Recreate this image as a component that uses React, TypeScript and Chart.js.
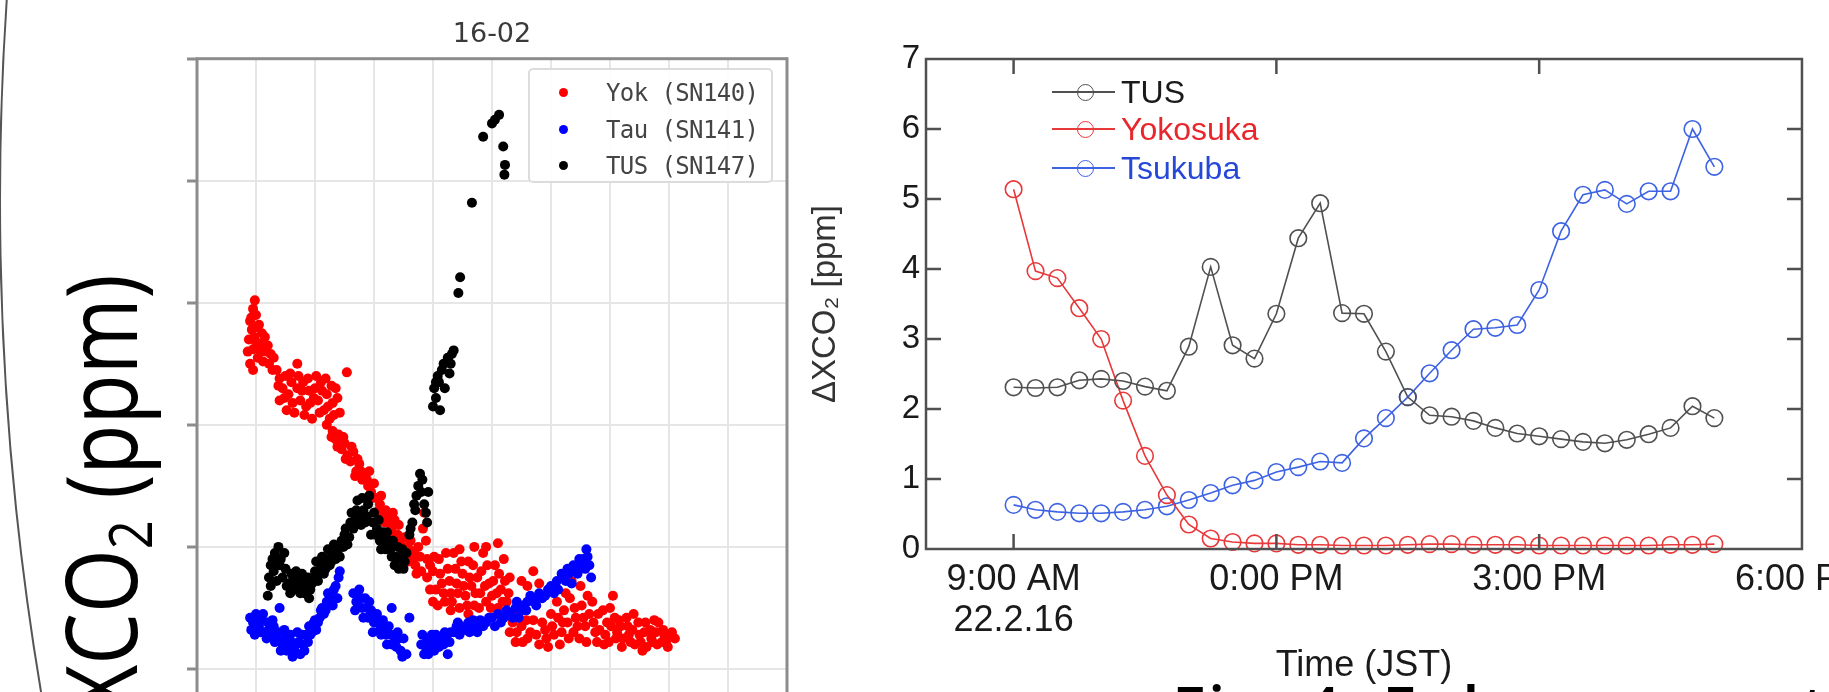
import React, { useEffect, useRef } from 'react';
import { Chart, registerables } from 'chart.js';

Chart.register(...registerables);

// ---------- Left chart (16-02): scatter, [time index, XCO2 level] ----------
const yokPoints: [number, number][] = [
  [0.98, 4.02], [0.95, 3.95], [1.0, 3.9], [0.9, 3.85], [1.05, 3.82], [0.93, 3.78], [1.1, 3.75], [0.88, 3.7],
  [1.0, 3.68], [1.15, 3.72], [0.95, 3.62], [1.2, 3.65], [1.08, 3.6], [0.9, 3.5], [1.25, 3.58], [1.12, 3.52], [1.3, 3.55],
  [0.92, 3.88], [1.02, 3.8], [0.97, 3.72], [1.07, 3.66], [0.86, 3.6], [1.18, 3.6], [1.03, 3.55], [0.95, 3.45], [1.22, 3.5], [1.28, 3.45],
  [1.7, 3.5], [2.54, 3.43], [1.35, 3.45], [1.4, 3.38], [1.5, 3.4], [1.45, 3.3], [1.6, 3.35], [1.55, 3.25], [1.7, 3.3],
  [1.75, 3.2], [1.8, 3.35], [1.9, 3.28], [1.85, 3.15], [2.0, 3.3], [2.05, 3.2], [2.1, 3.35], [2.15, 3.12], [2.2, 3.25],
  [2.3, 3.18], [2.25, 3.05], [2.35, 3.3], [1.65, 3.1], [1.4, 3.2], [1.95, 3.05],
  [1.38, 3.32], [1.48, 3.22], [1.58, 3.42], [1.62, 3.18], [1.72, 3.4], [1.78, 3.28], [1.88, 3.38], [1.92, 3.18], [1.98, 3.22],
  [2.08, 3.1], [2.12, 3.28], [2.18, 3.38], [2.22, 3.15], [2.28, 3.32], [2.32, 3.08], [2.38, 3.22], [2.42, 3.1], [1.52, 3.12],
  [1.82, 3.08], [2.02, 3.4],
  [2.2, 3.0], [2.3, 2.95], [2.35, 2.88], [2.4, 2.92], [2.45, 2.8], [2.5, 2.85], [2.55, 2.75], [2.6, 2.7], [2.65, 2.78],
  [2.7, 2.62], [2.75, 2.68], [2.8, 2.55], [2.85, 2.6], [2.9, 2.5], [2.95, 2.45], [3.0, 2.52],
  [2.28, 2.9], [2.38, 2.82], [2.48, 2.9], [2.52, 2.72], [2.62, 2.82], [2.68, 2.58], [2.72, 2.72], [2.78, 2.62], [2.88, 2.55],
  [2.92, 2.62], [2.98, 2.4],
  [3.05, 2.4], [3.1, 2.35], [3.15, 2.28], [3.2, 2.3], [3.25, 2.2], [3.3, 2.15], [3.35, 2.22], [3.4, 2.1], [3.45, 2.05],
  [3.5, 2.0], [3.55, 1.95], [3.6, 1.98], [3.65, 1.9], [3.7, 1.85], [3.75, 2.0], [3.8, 1.8], [3.85, 2.28], [3.83, 2.15],
  [3.9, 1.9], [3.95, 1.85],
  [3.08, 2.3], [3.12, 2.42], [3.18, 2.2], [3.22, 2.25], [3.28, 2.1], [3.32, 2.28], [3.38, 2.02], [3.42, 2.18], [3.48, 1.92],
  [3.52, 2.08], [3.58, 1.88], [3.62, 2.05], [3.68, 1.95], [3.72, 1.78], [3.78, 1.92], [3.88, 2.05],
  [3.9, 1.75], [4.0, 1.8], [4.05, 1.65], [4.1, 1.9], [4.15, 1.7], [4.2, 1.55], [4.25, 1.82], [4.3, 1.62], [4.35, 1.95],
  [4.4, 1.7], [4.45, 1.5], [4.5, 1.78], [4.55, 1.6], [4.6, 1.88], [4.65, 1.68], [4.7, 1.52], [4.75, 1.75], [4.8, 1.62],
  [4.85, 1.95], [4.9, 1.55], [4.95, 1.7], [5.0, 1.6], [5.05, 1.85], [5.1, 1.5], [5.15, 1.65], [5.2, 1.9], [5.25, 1.55],
  [5.1, 2.03], [4.7, 2.0], [4.3, 1.48], [4.0, 1.55], [4.6, 1.45], [5.3, 1.75], [5.5, 1.72], [5.6, 1.68], [5.7, 1.8], [5.8, 1.7],
  [3.95, 1.65], [4.02, 1.92], [4.08, 1.52], [4.12, 1.78], [4.18, 1.62], [4.22, 1.95], [4.28, 1.72], [4.32, 1.55], [4.38, 1.82],
  [4.42, 1.62], [4.48, 1.88], [4.52, 1.68], [4.58, 1.52], [4.62, 1.75], [4.68, 1.85], [4.72, 1.62], [4.78, 1.5], [4.82, 1.8],
  [4.88, 1.68], [4.92, 1.85], [4.98, 1.5], [5.02, 1.72], [5.08, 1.62], [5.12, 1.78], [5.18, 1.55], [5.22, 1.72], [5.28, 1.62],
  [4.45, 1.98], [4.9, 2.0],
  [5.3, 1.3], [5.4, 1.22], [5.5, 1.35], [5.6, 1.25], [5.7, 1.4], [5.8, 1.2], [5.9, 1.32], [6.0, 1.45], [6.05, 1.28],
  [6.1, 1.55], [6.2, 1.38], [6.25, 1.62], [6.3, 1.25], [6.4, 1.5], [6.45, 1.35], [6.5, 1.68], [6.55, 1.42], [6.6, 1.22],
  [6.7, 1.55], [6.75, 1.3], [6.8, 1.45], [6.9, 1.2], [6.95, 1.38], [7.0, 1.5], [7.1, 1.25], [7.15, 1.4], [7.2, 1.18],
  [7.3, 1.35], [7.35, 1.22], [7.4, 1.45], [7.5, 1.28], [7.55, 1.15], [7.6, 1.38], [7.7, 1.25], [7.75, 1.4], [7.8, 1.2],
  [7.9, 1.32], [7.95, 1.22], [8.0, 1.28], [8.1, 1.25], [6.15, 1.2], [5.45, 1.45], [7.05, 1.6], [6.35, 1.72], [5.95, 1.18],
  [5.35, 1.38], [5.42, 1.3], [5.52, 1.22], [5.58, 1.4], [5.65, 1.3], [5.75, 1.28], [5.85, 1.38], [5.92, 1.25], [6.02, 1.35],
  [6.12, 1.42], [6.18, 1.3], [6.22, 1.48], [6.28, 1.38], [6.32, 1.58], [6.38, 1.3], [6.42, 1.42], [6.48, 1.25], [6.52, 1.52],
  [6.58, 1.35], [6.62, 1.6], [6.65, 1.45], [6.72, 1.38], [6.78, 1.22], [6.82, 1.32], [6.88, 1.48], [6.92, 1.28], [6.98, 1.22],
  [7.02, 1.35], [7.08, 1.42], [7.12, 1.3], [7.18, 1.35], [7.22, 1.25], [7.28, 1.42], [7.32, 1.28], [7.38, 1.32], [7.42, 1.2],
  [7.48, 1.38], [7.52, 1.22], [7.58, 1.3], [7.62, 1.18], [7.68, 1.32], [7.72, 1.22], [7.78, 1.3], [7.82, 1.38], [7.88, 1.22],
  [7.92, 1.28], [7.98, 1.18], [8.05, 1.3],
];

const tauPoints: [number, number][] = [
  [0.9, 1.42], [0.95, 1.38], [1.0, 1.45], [1.05, 1.35], [1.1, 1.4], [1.15, 1.3], [1.2, 1.38], [1.25, 1.28], [1.3, 1.35],
  [1.35, 1.25], [1.4, 1.5], [1.45, 1.2],
  [0.92, 1.32], [0.98, 1.28], [1.02, 1.38], [1.08, 1.3], [1.12, 1.45], [1.18, 1.25], [1.22, 1.32], [1.28, 1.4], [1.32, 1.22],
  [1.38, 1.3], [1.42, 1.15], [1.48, 1.32],
  [1.5, 1.25], [1.55, 1.18], [1.6, 1.22], [1.65, 1.15], [1.7, 1.3], [1.75, 1.12], [1.8, 1.2], [1.85, 1.28], [1.9, 1.35], [1.95, 1.3],
  [1.52, 1.15], [1.58, 1.28], [1.62, 1.1], [1.68, 1.2], [1.72, 1.22], [1.78, 1.28], [1.82, 1.15], [1.88, 1.22], [1.92, 1.28], [1.98, 1.38],
  [2.0, 1.4], [2.05, 1.38], [2.1, 1.48], [2.15, 1.45], [2.2, 1.55], [2.25, 1.6], [2.3, 1.52], [2.35, 1.68], [2.4, 1.75], [2.42, 1.8],
  [2.02, 1.32], [2.08, 1.42], [2.12, 1.5], [2.18, 1.48], [2.22, 1.62], [2.28, 1.55], [2.32, 1.65], [2.38, 1.58],
  [2.65, 1.62], [2.7, 1.55], [2.75, 1.65], [2.8, 1.5], [2.85, 1.58], [2.9, 1.42], [2.95, 1.48], [3.0, 1.38], [3.05, 1.45],
  [3.1, 1.32], [3.15, 1.4], [3.2, 1.28], [3.25, 1.35], [3.3, 1.5], [3.35, 1.22], [3.4, 1.3], [3.45, 1.15], [3.5, 1.25],
  [3.55, 1.12], [3.3, 1.2], [3.6, 1.42],
  [2.68, 1.48], [2.72, 1.6], [2.78, 1.58], [2.82, 1.42], [2.88, 1.5], [2.92, 1.55], [2.98, 1.3], [3.02, 1.42], [3.08, 1.38],
  [3.12, 1.28], [3.18, 1.35], [3.22, 1.2], [3.28, 1.28], [3.38, 1.18], [3.42, 1.25], [3.48, 1.1],
  [3.8, 1.2], [3.85, 1.12], [3.9, 1.25], [3.95, 1.15], [4.0, 1.22], [4.05, 1.28], [4.1, 1.18], [4.15, 1.25], [4.2, 1.3], [4.25, 1.12],
  [3.82, 1.28], [3.88, 1.18], [3.92, 1.12], [3.98, 1.28], [4.02, 1.15], [4.08, 1.22], [4.18, 1.2], [4.22, 1.25], [4.28, 1.22],
  [4.3, 1.3], [4.4, 1.35], [4.5, 1.32], [4.6, 1.38], [4.7, 1.35], [4.8, 1.4], [4.9, 1.38], [5.0, 1.42], [5.1, 1.45], [5.2, 1.42],
  [4.45, 1.28], [4.75, 1.3], [5.05, 1.35],
  [4.35, 1.3], [4.42, 1.38], [4.48, 1.35], [4.55, 1.32], [4.62, 1.3], [4.68, 1.4], [4.72, 1.38], [4.85, 1.35], [4.95, 1.42], [5.15, 1.38],
  [5.3, 1.45], [5.4, 1.5], [5.5, 1.48], [5.6, 1.55], [5.7, 1.58], [5.8, 1.62], [5.9, 1.6], [6.0, 1.68], [6.1, 1.72], [6.2, 1.75],
  [6.3, 1.78], [6.4, 1.8], [6.5, 1.85], [6.55, 1.9], [6.6, 1.98], [6.65, 1.85], [6.68, 1.75], [5.45, 1.42], [5.75, 1.52],
  [6.05, 1.62], [6.35, 1.7],
  [5.25, 1.48], [5.35, 1.42], [5.42, 1.55], [5.52, 1.52], [5.58, 1.48], [5.65, 1.6], [5.72, 1.55], [5.85, 1.58], [5.95, 1.65],
  [6.12, 1.65], [6.18, 1.78], [6.25, 1.72], [6.28, 1.82], [6.38, 1.85], [6.45, 1.78], [6.48, 1.9], [6.58, 1.82], [6.62, 1.92],
];

const tusPoints: [number, number][] = [
  [1.2, 1.6], [1.22, 1.75], [1.25, 1.85], [1.3, 1.8], [1.32, 1.95], [1.38, 2.0], [1.42, 1.9], [1.45, 1.75], [1.5, 1.82], [1.25, 1.68],
  [1.28, 1.9], [1.35, 1.72], [1.4, 1.85], [1.48, 1.95], [1.52, 1.68],
  [1.55, 1.7], [1.6, 1.78], [1.65, 1.65], [1.7, 1.75], [1.75, 1.62], [1.8, 1.72], [1.85, 1.68], [1.9, 1.58], [1.95, 1.7],
  [2.0, 1.8], [2.05, 1.72], [2.1, 1.85], [2.15, 1.78], [2.2, 1.9], [2.25, 1.85], [2.3, 1.95], [2.35, 1.9], [2.4, 2.0],
  [1.58, 1.62], [1.62, 1.72], [1.68, 1.8], [1.72, 1.68], [1.78, 1.78], [1.82, 1.62], [1.88, 1.75], [1.92, 1.65], [1.98, 1.75],
  [2.02, 1.88], [2.08, 1.78], [2.12, 1.92], [2.18, 1.82], [2.22, 1.98], [2.28, 1.88], [2.32, 2.02], [2.38, 1.95],
  [2.45, 2.05], [2.5, 2.1], [2.55, 2.02], [2.6, 2.2], [2.65, 2.15], [2.7, 2.3], [2.75, 2.25], [2.8, 2.4], [2.85, 2.2],
  [2.9, 2.35], [2.95, 2.1], [3.0, 2.28], [3.05, 2.15], [3.1, 2.05], [3.15, 2.12], [3.2, 1.98], [3.25, 2.05], [3.3, 1.92],
  [3.35, 1.85], [3.4, 2.0], [3.45, 1.9], [3.5, 1.82], [3.55, 1.95],
  [2.42, 1.92], [2.48, 2.0], [2.52, 2.15], [2.58, 2.08], [2.62, 2.28], [2.68, 2.22], [2.72, 2.38], [2.78, 2.18], [2.82, 2.3],
  [2.88, 2.25], [2.92, 2.42], [2.98, 2.2], [3.02, 2.1], [3.08, 2.22], [3.12, 1.98], [3.18, 2.05], [3.22, 2.12], [3.28, 1.98],
  [3.32, 2.05], [3.38, 1.92], [3.42, 1.82], [3.48, 1.98], [3.52, 1.88],
  [3.6, 2.1], [3.65, 2.2], [3.7, 2.3], [3.72, 2.42], [3.75, 2.5], [3.78, 2.6], [3.82, 2.55], [3.85, 2.35], [3.9, 2.2], [3.92, 2.45],
  [3.62, 2.15], [3.68, 2.35], [3.8, 2.45], [3.88, 2.28],
  [4.0, 3.15], [4.02, 3.3], [4.05, 3.22], [4.08, 3.4], [4.1, 3.35], [4.15, 3.45], [4.2, 3.3], [4.25, 3.55], [4.3, 3.5],
  [4.35, 3.61], [4.12, 3.12], [4.05, 3.35], [4.18, 3.5], [4.28, 3.42], [4.32, 3.58],
  [4.43, 4.08], [4.46, 4.21], [4.66, 4.82], [4.85, 5.36], [5.0, 5.47], [5.05, 5.5], [5.12, 5.54], [5.19, 5.28], [5.22, 5.13], [5.21, 5.05],
];

const leftLabels = ['Yok (SN140)', 'Tau (SN141)', 'TUS (SN147)'];
const leftColors = ['#ff0000', '#0000ff', '#000000'];
const leftTitle = '16-02';

// ---------- Right chart: ΔXCO2 every 15 min (hours, JST) ----------
const timeHours = [9, 9.25, 9.5, 9.75, 10, 10.25, 10.5, 10.75, 11, 11.25, 11.5, 11.75, 12, 12.25, 12.5, 12.75,
  13, 13.25, 13.5, 13.75, 14, 14.25, 14.5, 14.75, 15, 15.25, 15.5, 15.75, 16, 16.25, 16.5, 16.75, 17];
const tusValues = [2.31, 2.30, 2.31, 2.41, 2.43, 2.40, 2.32, 2.26, 2.89, 4.03, 2.91, 2.72, 3.36, 4.44, 4.94, 3.37,
  3.36, 2.82, 2.17, 1.91, 1.89, 1.83, 1.73, 1.65, 1.61, 1.57, 1.53, 1.51, 1.56, 1.64, 1.73, 2.04, 1.87];
const yokosukaValues = [5.14, 3.97, 3.87, 3.44, 3.00, 2.12, 1.33, 0.77, 0.35, 0.15, 0.10, 0.08, 0.08, 0.06, 0.06, 0.05,
  0.05, 0.05, 0.06, 0.07, 0.07, 0.06, 0.06, 0.06, 0.05, 0.05, 0.05, 0.05, 0.05, 0.05, 0.06, 0.06, 0.07];
const tsukubaValues = [0.63, 0.56, 0.53, 0.51, 0.51, 0.53, 0.56, 0.61, 0.70, 0.80, 0.91, 0.98, 1.10, 1.17, 1.25, 1.23,
  1.58, 1.87, 2.17, 2.51, 2.84, 3.14, 3.16, 3.20, 3.70, 4.54, 5.06, 5.13, 4.93, 5.11, 5.11, 6.00, 5.46];

const rightLabels = ['TUS', 'Yokosuka', 'Tsukuba'];
const rightLineColors = ['#505050', '#e8383a', '#3d62e4'];
const rightTextColors = ['#1a1a1a', '#e8262c', '#2648d8'];
const xTickValues = [9, 12, 15, 18];
const xTickLabels: (string | string[])[] = [['9:00 AM', '22.2.16'], '0:00 PM', '3:00 PM', '6:00 PM'];
const xInnerTicks = [9, 12, 15];
const yInnerTicks = [1, 2, 3, 4, 5, 6];

const framePlugin = (id: string, color: string, width: number) => ({
  id,
  afterDatasetsDraw(chart: any) {
    const { ctx, chartArea } = chart;
    ctx.save();
    ctx.strokeStyle = color;
    ctx.lineWidth = width;
    ctx.strokeRect(chartArea.left, chartArea.top, chartArea.right - chartArea.left, chartArea.bottom - chartArea.top);
    ctx.restore();
  },
});

const innerTicksPlugin = {
  id: 'innerTicks',
  afterDatasetsDraw(chart: any) {
    const { ctx, chartArea, scales } = chart;
    const { left, right, top, bottom } = chartArea;
    ctx.save();
    ctx.strokeStyle = '#505050';
    ctx.lineWidth = 2.5;
    ctx.beginPath();
    for (const v of yInnerTicks) {
      const py = scales.y.getPixelForValue(v);
      ctx.moveTo(left, py); ctx.lineTo(left + 15, py);
      ctx.moveTo(right, py); ctx.lineTo(right - 15, py);
    }
    for (const v of xInnerTicks) {
      const px = scales.x.getPixelForValue(v);
      ctx.moveTo(px, bottom); ctx.lineTo(px, bottom - 15);
      ctx.moveTo(px, top); ctx.lineTo(px, top + 15);
    }
    ctx.stroke();
    ctx.restore();
  },
};

export default function App() {
  const leftRef = useRef<HTMLCanvasElement>(null);
  const rightRef = useRef<HTMLCanvasElement>(null);

  useEffect(() => {
    const leftSets = [yokPoints, tauPoints, tusPoints];
    const left = new Chart(leftRef.current!, {
      type: 'scatter',
      data: {
        datasets: leftSets.map((pts, i) => ({
          label: leftLabels[i],
          data: pts.map(([x, y]) => ({ x, y })),
          backgroundColor: leftColors[i],
          borderWidth: 0,
          pointRadius: 5,
          order: 3 - i,
        })),
      },
      options: {
        animation: false,
        responsive: false,
        layout: { padding: { left: 67, right: 67, top: 0, bottom: 0 } },
        plugins: {
          legend: { display: false },
          tooltip: { enabled: false },
          title: {
            display: true,
            text: leftTitle,
            color: '#3a3a3a',
            font: { family: 'DejaVu Sans', size: 27, weight: 'normal', lineHeight: 1.1 },
            padding: { top: 20, bottom: 9 },
          },
        },
        scales: {
          x: {
            type: 'linear', min: 0, max: 10,
            ticks: { display: false, stepSize: 1 },
            grid: { color: '#e6e6e6', lineWidth: 2, drawTicks: false },
            border: { display: false },
            afterFit: (s: any) => { s.height = 109; },
          },
          y: {
            type: 'linear', min: 0, max: 6,
            ticks: { display: false, stepSize: 1 },
            grid: { color: '#e6e6e6', lineWidth: 2, drawTicks: true, tickLength: 10, tickColor: '#8c8c8c', tickWidth: 3 } as any,
            border: { display: false },
            afterFit: (s: any) => { s.width = 0; },
          },
        },
      },
      plugins: [framePlugin('frameL', '#8c8c8c', 3)],
    });

    const rightVals = [tusValues, yokosukaValues, tsukubaValues];
    const right = new Chart(rightRef.current!, {
      type: 'line',
      data: {
        datasets: rightVals.map((vals, i) => ({
          label: rightLabels[i],
          data: timeHours.map((t, j) => ({ x: t, y: vals[j] })),
          borderColor: rightLineColors[i],
          borderWidth: 1.6,
          pointBorderColor: rightLineColors[i],
          pointBackgroundColor: 'rgba(0,0,0,0)',
          pointRadius: 8.3,
          pointBorderWidth: 1.6,
          tension: 0,
          clip: false as any,
        })),
      },
      options: {
        animation: false,
        responsive: false,
        layout: { padding: { left: 0, right: 78, top: 59, bottom: 0 } },
        plugins: { legend: { display: false }, tooltip: { enabled: false } },
        scales: {
          x: {
            type: 'linear', min: 8, max: 18,
            afterBuildTicks: (s: any) => { s.ticks = xTickValues.map((v) => ({ value: v })); },
            ticks: {
              autoSkip: false, maxRotation: 0, color: '#1a1a1a', padding: 11,
              font: { family: 'Liberation Sans', size: 36, lineHeight: 1.14 },
              callback: (_v: any, i: number) => xTickLabels[i],
            },
            grid: { display: false, drawTicks: false },
            border: { display: false },
            title: {
              display: true, text: 'Time (JST)', color: '#1a1a1a',
              font: { family: 'Liberation Sans', size: 36 },
              padding: { top: 0, bottom: 4 },
            },
            afterFit: (s: any) => { s.height = 143; },
          },
          y: {
            type: 'linear', min: 0, max: 7,
            ticks: { stepSize: 1, color: '#1a1a1a', padding: 6, font: { family: 'Liberation Sans', size: 33 } },
            grid: { display: false, drawTicks: false },
            border: { display: false },
            title: {
              display: true, text: 'ΔXCO₂ [ppm]', color: '#333',
              font: { family: 'Liberation Sans', size: 33 },
              padding: { top: 26, bottom: 0 },
            },
            afterFit: (s: any) => { s.width = 146; },
          },
        },
      },
      plugins: [framePlugin('frameR', '#505050', 2.5), innerTicksPlugin],
    });

    return () => { left.destroy(); right.destroy(); };
  }, []);

  const leftRowY = [23, 60, 96];
  const rightRowY = [92, 129, 168];

  return (
    <div style={{ position: 'fixed', left: 0, top: 0, width: 1829, height: 692, overflow: 'hidden', background: '#fff' }}>
      {/* slide decoration arc */}
      <div style={{ position: 'absolute', left: -1, top: 200 - 2970, width: 5940, height: 5940, border: '2px solid #555', borderRadius: '50%', boxSizing: 'border-box' }} />

      <canvas ref={leftRef} width={724} height={900} style={{ position: 'absolute', left: 130, top: 0, width: 724, height: 900 }} />
      <canvas ref={rightRef} width={1100} height={692} style={{ position: 'absolute', left: 780, top: 0, width: 1100, height: 692 }} />

      {/* big slide axis label */}
      <div style={{
        position: 'absolute', left: 49, top: 712, whiteSpace: 'nowrap', fontFamily: '"Open Sans", sans-serif',
        fontSize: 82, lineHeight: 1, color: '#000', transformOrigin: '0 0', transform: 'rotate(-90deg) scaleY(1.2)',
      }}>
        XCO<sub style={{ fontSize: '0.62em', verticalAlign: '-0.25em' }}>2</sub> (ppm)
      </div>

      {/* slide caption (cut off at the bottom edge) */}
      <div style={{
        position: 'absolute', left: 1172, top: 676, whiteSpace: 'nowrap', fontFamily: '"Open Sans", sans-serif',
        fontSize: 62, lineHeight: 1, fontWeight: 600, color: '#000', letterSpacing: 3,
      }}>
        Fig. 4: Enhancement of XCO₂ on 16 STU
      </div>

      {/* left legend */}
      <div style={{ position: 'absolute', left: 528, top: 68, width: 245, height: 115, boxSizing: 'border-box', border: '2px solid #dcdcdc', borderRadius: 5, background: 'rgba(255,255,255,0.9)' }}>
        {leftLabels.map((lab, i) => (
          <div key={lab}>
            <div style={{ position: 'absolute', left: 29, top: leftRowY[i] - 5, width: 9, height: 9, borderRadius: '50%', background: leftColors[i] }} />
            <div style={{ position: 'absolute', left: 76, top: leftRowY[i] - 14, fontFamily: '"DejaVu Sans Mono", monospace', fontSize: 24, lineHeight: '28px', color: '#444', whiteSpace: 'nowrap', letterSpacing: -0.6 }}>{lab}</div>
          </div>
        ))}
      </div>

      {/* right legend */}
      {rightLabels.map((lab, i) => (
        <div key={lab}>
          <div style={{ position: 'absolute', left: 1052, top: rightRowY[i] - 1, width: 63, height: 1.6, background: rightLineColors[i] }} />
          <div style={{ position: 'absolute', left: 1085 - 8.5, top: rightRowY[i] - 8.5, width: 17, height: 17, boxSizing: 'border-box', border: `1.6px solid ${rightLineColors[i]}`, borderRadius: '50%' }} />
          <div style={{ position: 'absolute', left: 1121, top: rightRowY[i] - 19, fontFamily: '"Liberation Sans", Arial, sans-serif', fontSize: 32, lineHeight: '38px', color: rightTextColors[i], whiteSpace: 'nowrap' }}>{lab}</div>
        </div>
      ))}
    </div>
  );
}
